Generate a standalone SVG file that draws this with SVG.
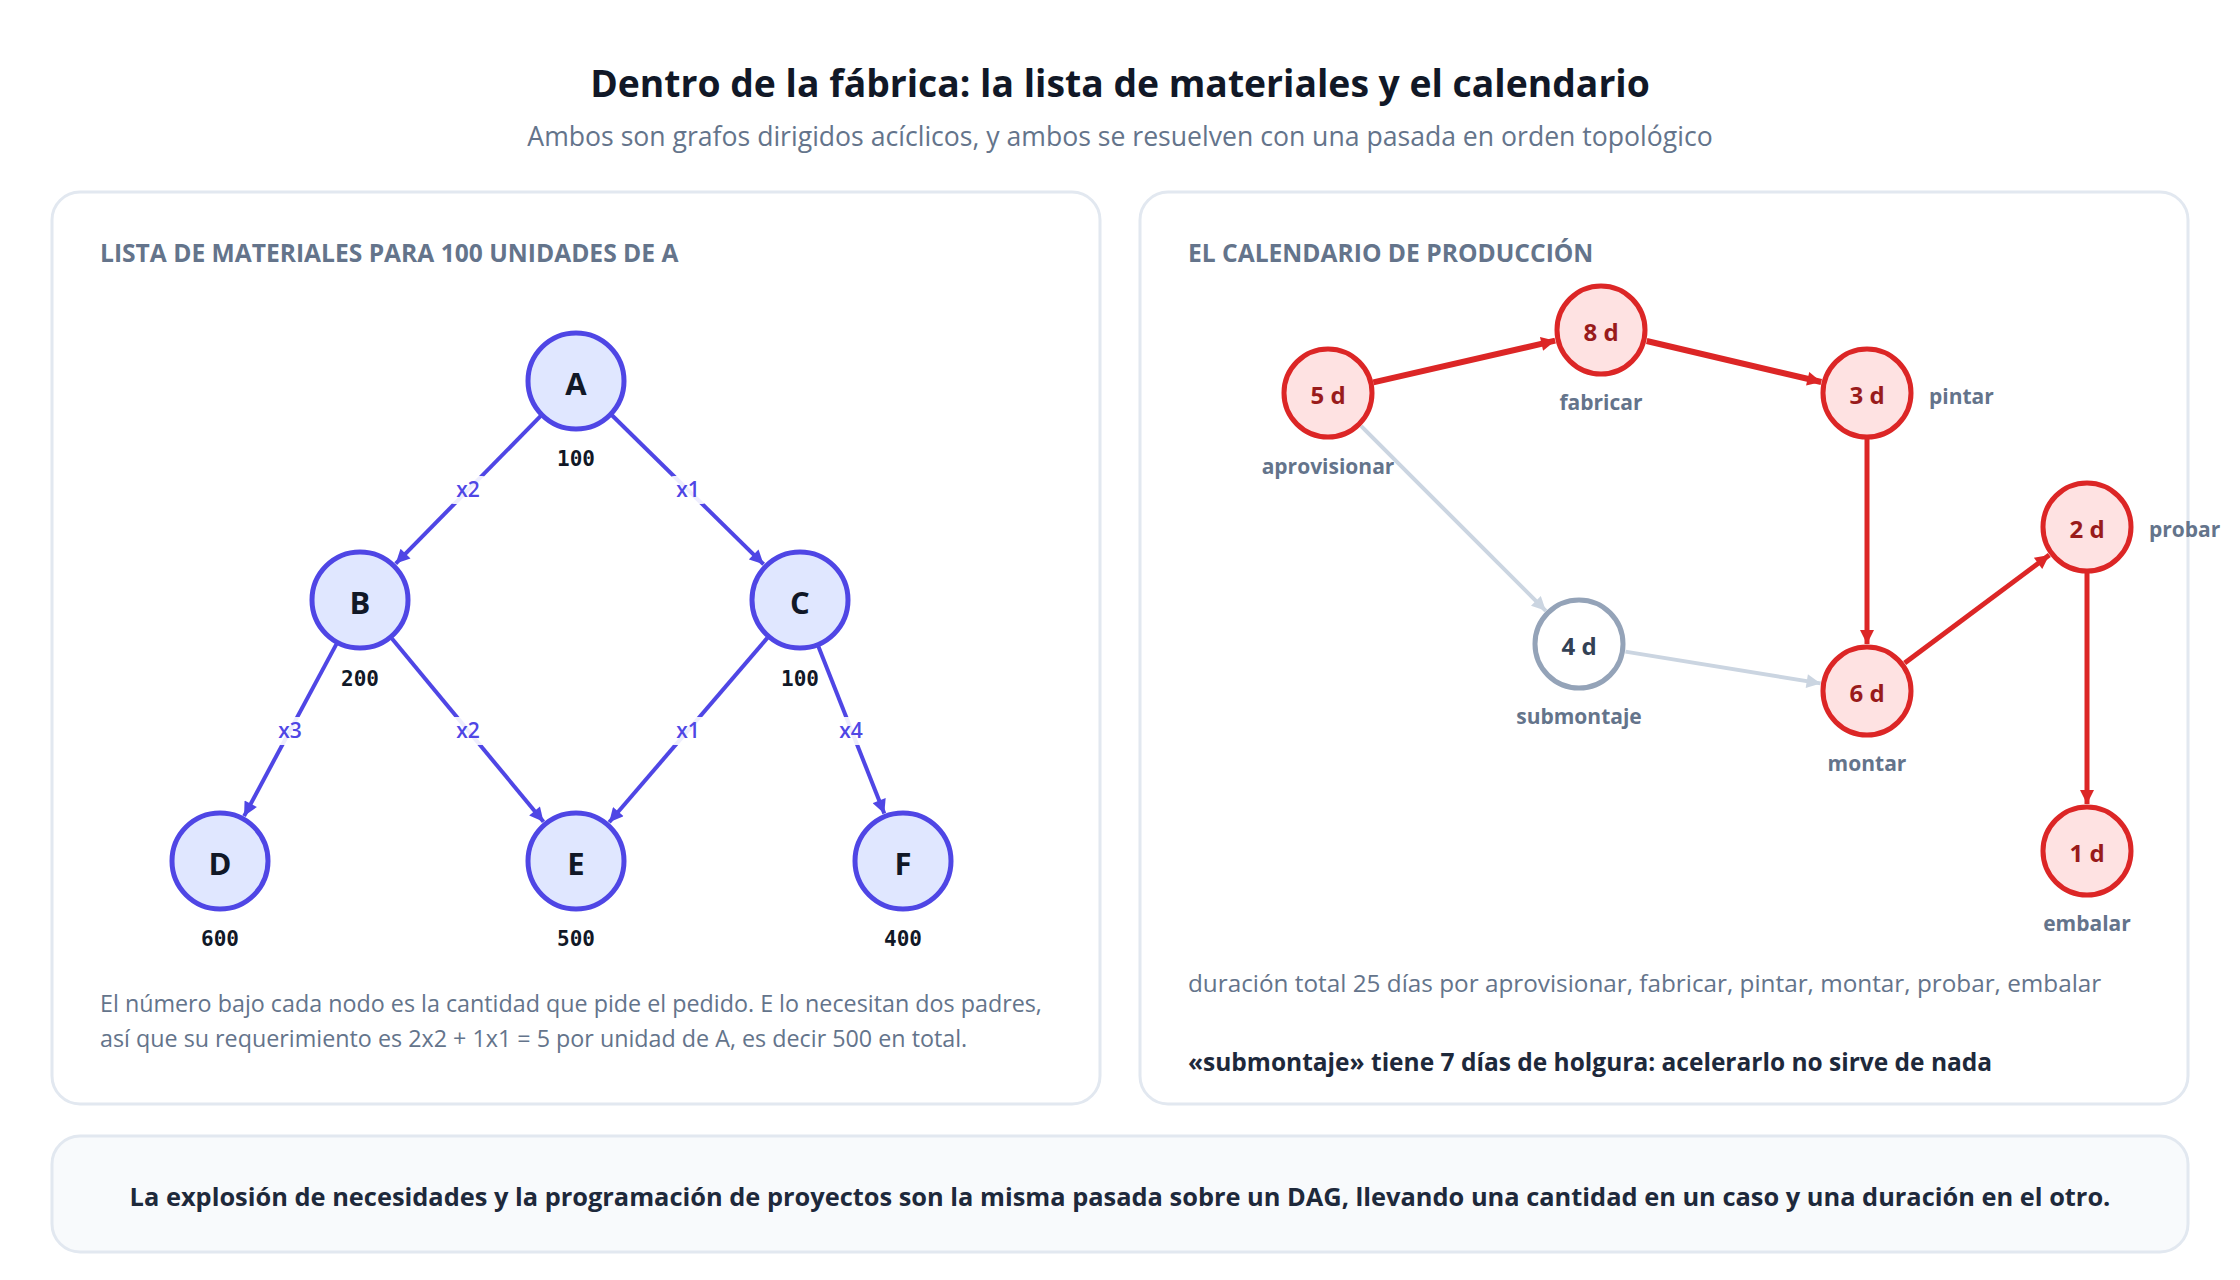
<svg xmlns="http://www.w3.org/2000/svg" width="2240" height="1280" viewBox="0 0 2240 1280">
<style>
.sans{font-family:"Open Sans","Noto Sans","DejaVu Sans",sans-serif}
.title{font-size:37.3px;font-weight:700;fill:#111827}
.sub{font-size:26.6px;fill:#64748b}
.head{font-size:24.6px;font-weight:700;fill:#64748b}
.panel{fill:#ffffff;stroke:#e2e8f0;stroke-width:3}
.bnode{fill:#e0e7ff;stroke:#4f46e5;stroke-width:5}
.bletter{font-size:31px;font-weight:700;fill:#111827}
.qty{font-family:"DejaVu Sans Mono","Liberation Mono",monospace;font-size:21px;font-weight:700;fill:#111827}
.bedge{stroke:#4f46e5;stroke-width:4;fill:none}
.elab{font-size:21px;font-weight:600;fill:#4f46e5}
.lbg{fill:#ffffff;fill-opacity:0.9}
.body{font-size:23.3px;fill:#64748b}
.crit{fill:#fee2e2;stroke:#dc2626;stroke-width:5}
.slack{fill:#ffffff;stroke:#94a3b8;stroke-width:5}
.dur{font-size:24px;font-weight:700;fill:#991b1b}
.durs{font-size:24px;font-weight:700;fill:#334155}
.tlab{font-size:21px;font-weight:700;fill:#64748b}
.redge{stroke:#dc2626;stroke-width:5;fill:none}
.redge2{stroke:#dc2626;stroke-width:6;fill:none}
.gedge{stroke:#cbd5e1;stroke-width:4;fill:none}
.note{font-size:24.3px;fill:#64748b}
.noteb{font-size:24.5px;font-weight:700;fill:#1e293b}
.foot{fill:#f8fafc;stroke:#e2e8f0;stroke-width:3}
.foott{font-size:25.4px;font-weight:700;fill:#1e293b}
</style>
<defs>
<marker id="ab" viewBox="0 0 10 10" refX="10" refY="5" markerUnits="userSpaceOnUse" markerWidth="15" markerHeight="14" orient="auto"><path d="M0,0 L10,5 L0,10 z" fill="#4f46e5"/></marker>
<marker id="ar" viewBox="0 0 10 10" refX="10" refY="5" markerUnits="userSpaceOnUse" markerWidth="16" markerHeight="14" orient="auto"><path d="M0,0 L10,5 L0,10 z" fill="#dc2626"/></marker>
<marker id="ag" viewBox="0 0 10 10" refX="10" refY="5" markerUnits="userSpaceOnUse" markerWidth="16" markerHeight="14" orient="auto"><path d="M0,0 L10,5 L0,10 z" fill="#cbd5e1"/></marker>
</defs>
<rect width="2240" height="1280" fill="#ffffff"/>

<g id="header" class="sans">
<text class="title" x="1120" y="97" text-anchor="middle">Dentro de la fábrica: la lista de materiales y el calendario</text>
<text class="sub" x="1120" y="146" text-anchor="middle">Ambos son grafos dirigidos acíclicos, y ambos se resuelven con una pasada en orden topológico</text>
</g>

<g id="panel-bom" class="sans">
<rect class="panel" x="52" y="192" width="1048" height="912" rx="28"/>
<text class="head" x="100" y="262">LISTA DE MATERIALES PARA 100 UNIDADES DE A</text>
<text class="body" x="100" y="1012">El número bajo cada nodo es la cantidad que pide el pedido. E lo necesitan dos padres,</text>
<text class="body" x="100" y="1047">así que su requerimiento es 2x2 + 1x1 = 5 por unidad de A, es decir 500 en total.</text>
</g>

<g id="panel-schedule" class="sans">
<rect class="panel" x="1140" y="192" width="1048" height="912" rx="28"/>
<text class="head" x="1188" y="262">EL CALENDARIO DE PRODUCCIÓN</text>
<text class="note" x="1188" y="992">duración total 25 días por aprovisionar, fabricar, pintar, montar, probar, embalar</text>
<text class="noteb" x="1188" y="1071">«submontaje» tiene 7 días de holgura: acelerarlo no sirve de nada</text>
</g>

<g id="connectors">
<g id="bom-edges">
<path class="bedge" d="M541,415.7 L395.7,563.6" marker-end="url(#ab)"/>
<path class="bedge" d="M611.7,415 L763.6,564.3" marker-end="url(#ab)"/>
<path class="bedge" d="M336.4,644.1 L244.1,816.1" marker-end="url(#ab)"/>
<path class="bedge" d="M391.9,638.5 L543.5,821.7" marker-end="url(#ab)"/>
<path class="bedge" d="M767.4,637.9 L609.2,822.3" marker-end="url(#ab)"/>
<path class="bedge" d="M818.4,646.5 L884.3,813.6" marker-end="url(#ab)"/>
</g>
<g id="bom-edge-labels" class="sans">
<rect class="lbg" x="450" y="476" width="36" height="28" rx="4"/>
<text class="elab" x="468" y="497" text-anchor="middle">x2</text>
<rect class="lbg" x="670" y="476" width="36" height="28" rx="4"/>
<text class="elab" x="688" y="497" text-anchor="middle">x1</text>
<rect class="lbg" x="272" y="717" width="36" height="28" rx="4"/>
<text class="elab" x="290" y="738" text-anchor="middle">x3</text>
<rect class="lbg" x="450" y="717" width="36" height="28" rx="4"/>
<text class="elab" x="468" y="738" text-anchor="middle">x2</text>
<rect class="lbg" x="670" y="717" width="36" height="28" rx="4"/>
<text class="elab" x="688" y="738" text-anchor="middle">x1</text>
<rect class="lbg" x="833" y="717" width="36" height="28" rx="4"/>
<text class="elab" x="851" y="738" text-anchor="middle">x4</text>
</g>
<g id="schedule-edges">
<path class="gedge" d="M1361.2,426.2 L1545.8,610.8" marker-end="url(#ag)"/>
<path class="gedge" d="M1625.4,651.6 L1820.6,683.4" marker-end="url(#ag)"/>
<path class="redge2" d="M1373.3,382.4 L1555.2,340.7" marker-end="url(#ar)"/>
<path class="redge2" d="M1646.7,341 L1821.3,382" marker-end="url(#ar)"/>
<path class="redge" d="M1867,439 L1867,644" marker-end="url(#ar)"/>
<path class="redge" d="M1904.7,662.9 L2049.3,555.1" marker-end="url(#ar)"/>
<path class="redge" d="M2087,573 L2087,804" marker-end="url(#ar)"/>
</g>
</g>

<g id="node-A" class="sans"><circle class="bnode" cx="576" cy="381" r="48"/><text class="bletter" x="576" y="395" text-anchor="middle">A</text><text class="qty" x="576" y="466" text-anchor="middle">100</text></g>
<g id="node-B" class="sans"><circle class="bnode" cx="360" cy="600" r="48"/><text class="bletter" x="360" y="614" text-anchor="middle">B</text><text class="qty" x="360" y="686" text-anchor="middle">200</text></g>
<g id="node-C" class="sans"><circle class="bnode" cx="800" cy="600" r="48"/><text class="bletter" x="800" y="614" text-anchor="middle">C</text><text class="qty" x="800" y="686" text-anchor="middle">100</text></g>
<g id="node-D" class="sans"><circle class="bnode" cx="220" cy="861" r="48"/><text class="bletter" x="220" y="875" text-anchor="middle">D</text><text class="qty" x="220" y="946" text-anchor="middle">600</text></g>
<g id="node-E" class="sans"><circle class="bnode" cx="576" cy="861" r="48"/><text class="bletter" x="576" y="875" text-anchor="middle">E</text><text class="qty" x="576" y="946" text-anchor="middle">500</text></g>
<g id="node-F" class="sans"><circle class="bnode" cx="903" cy="861" r="48"/><text class="bletter" x="903" y="875" text-anchor="middle">F</text><text class="qty" x="903" y="946" text-anchor="middle">400</text></g>

<g id="node-aprovisionar" class="sans"><circle class="crit" cx="1328" cy="393" r="44"/><text class="dur" x="1328" y="404" text-anchor="middle">5 d</text><text class="tlab" x="1328" y="474" text-anchor="middle">aprovisionar</text></g>
<g id="node-fabricar" class="sans"><circle class="crit" cx="1601" cy="330" r="44"/><text class="dur" x="1601" y="341" text-anchor="middle">8 d</text><text class="tlab" x="1601" y="410" text-anchor="middle">fabricar</text></g>
<g id="node-pintar" class="sans"><circle class="crit" cx="1867" cy="393" r="44"/><text class="dur" x="1867" y="404" text-anchor="middle">3 d</text><text class="tlab" x="1929" y="404">pintar</text></g>
<g id="node-submontaje" class="sans"><circle class="slack" cx="1579" cy="644" r="44"/><text class="durs" x="1579" y="655" text-anchor="middle">4 d</text><text class="tlab" x="1579" y="724" text-anchor="middle">submontaje</text></g>
<g id="node-montar" class="sans"><circle class="crit" cx="1867" cy="691" r="44"/><text class="dur" x="1867" y="702" text-anchor="middle">6 d</text><text class="tlab" x="1867" y="771" text-anchor="middle">montar</text></g>
<g id="node-probar" class="sans"><circle class="crit" cx="2087" cy="527" r="44"/><text class="dur" x="2087" y="538" text-anchor="middle">2 d</text><text class="tlab" x="2149" y="537">probar</text></g>
<g id="node-embalar" class="sans"><circle class="crit" cx="2087" cy="851" r="44"/><text class="dur" x="2087" y="862" text-anchor="middle">1 d</text><text class="tlab" x="2087" y="931" text-anchor="middle">embalar</text></g>

<g id="footer" class="sans">
<rect class="foot" x="52" y="1136" width="2136" height="116" rx="28"/>
<text class="foott" x="1120" y="1206" text-anchor="middle">La explosión de necesidades y la programación de proyectos son la misma pasada sobre un DAG, llevando una cantidad en un caso y una duración en el otro.</text>
</g>
</svg>
